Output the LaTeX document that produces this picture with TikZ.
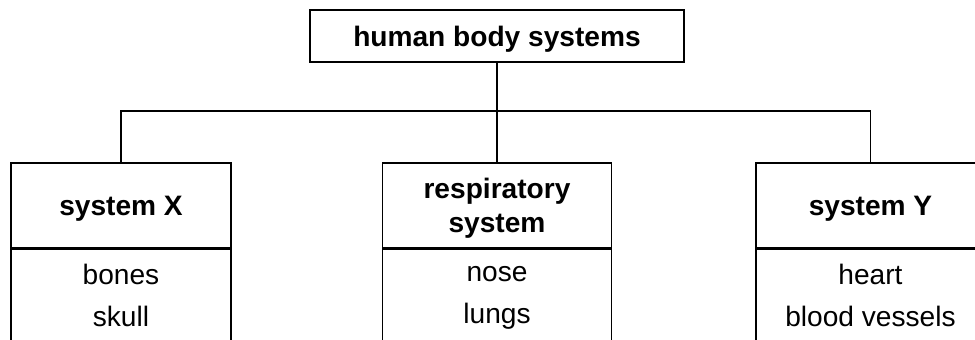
\documentclass[tikz,border=0pt]{standalone}
\usepackage{fontspec}
\setmainfont{Liberation Sans}
\usetikzlibrary{positioning}
\begin{document}
\begin{tikzpicture}[x=0.2mm,y=-0.2mm,line width=0.6pt,
  topbox/.style={draw,font=\fontsize{16pt}{19pt}\selectfont\bfseries,text depth=0pt,minimum width=74.8mm,minimum height=10.4mm,inner sep=0pt},
  headbox/.style={draw,align=center,font=\fontsize{16pt}{19.3pt}\selectfont\bfseries,text depth=0pt,minimum height=17mm,inner sep=0pt},
  listbox/.style={draw,align=center,font=\fontsize{16pt}{23.8pt}\selectfont,minimum height=19.6mm,inner sep=0pt,
    execute at begin node=\vphantom{bg},execute at end node=\vphantom{bg}}]
\useasboundingbox (0,0) rectangle (975,339);
\clip (0,0) rectangle (975,339);
\node[topbox] (top) at (497,36) {human body systems};
\node[headbox,minimum width=44mm] (sysx) at (121,205.5) {system X};
\node[headbox,minimum width=45.8mm] (resp) at (497,205.5) {respiratory\\system};
\node[headbox,minimum width=45.8mm] (sysy) at (870.5,205.5) {system Y};
\node[listbox,minimum width=44mm,below=0pt of sysx] (xlist) {bones\\skull};
\node[listbox,minimum width=45.8mm,below=0pt of resp] (resplist) {nose\\lungs};
\node[listbox,minimum width=45.8mm,below=0pt of sysy] (ylist) {heart\\blood vessels};
\coordinate (bus) at (497,111);
\draw (top) -- (resp);
\draw (sysx) |- (bus) -| (sysy);
\end{tikzpicture}
\end{document}
